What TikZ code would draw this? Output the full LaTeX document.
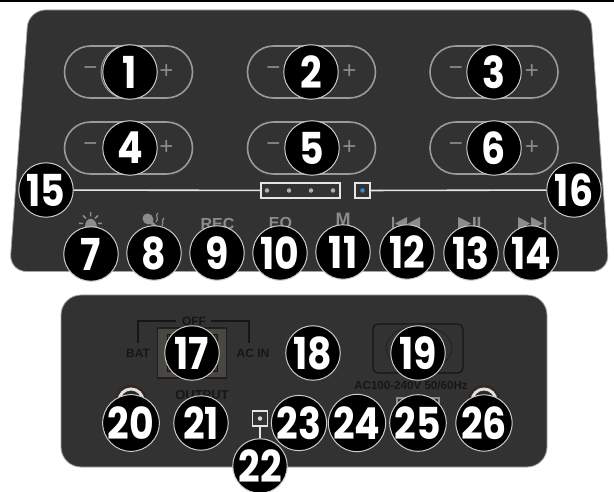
\documentclass[tikz,border=0pt]{standalone}
\usepackage{fontspec}
\setmainfont{Liberation Sans}
\newfontfamily\badgefont[FakeStretch=0.86]{Poppins}
\definecolor{panel}{HTML}{323232}
\definecolor{silk}{HTML}{8C8C8C}
\definecolor{edgeg}{HTML}{9A9A9A}
\definecolor{ink}{HTML}{161616}
\definecolor{switchg}{HTML}{4A4642}
\definecolor{jackrim}{HTML}{35261F}
\tikzset{
  badge/.style={circle,draw=white!80!black,line width=1pt,fill=black,text=white,minimum size=54.5pt,inner sep=0pt,font=\badgefont\fontsize{44}{44}\bfseries\selectfont},
  pill/.style={rounded corners=26pt,draw=edgeg,line width=1.6pt,minimum width=128pt,minimum height=52pt,inner sep=0pt},
  sign/.style={text=silk,font=\fontsize{24}{24}\selectfont,inner sep=0pt},
  ledbox/.style={draw=white!90!black,line width=1.6pt,fill=panel,inner sep=0pt},
  lead/.style={draw=white!90!black,line width=1.6pt},
  silklabel/.style={text=silk,font=\fontsize{16}{16}\bfseries\selectfont,inner sep=0pt},
  inklabel/.style={text=ink,font=\fontsize{12}{12}\bfseries\selectfont,inner sep=0pt},
  led/.style={circle,fill=#1,inner sep=0pt,minimum size=4.5pt},
  jack/.style={circle,draw=white!88!black,line width=3pt,fill=panel!80!black,minimum size=24pt,inner sep=0pt}
}
\begin{document}
\begin{tikzpicture}[x=1pt,y=-1pt]
\useasboundingbox (0,0) rectangle (614,492);
\fill[white] (0,0) rectangle (614,492);
\fill[black] (0,0) rectangle (614,2);
% top panel
\draw[fill=panel,draw=white!65!black,line width=.8pt,rounded corners=17pt]
  (28.5,10) -- (590.5,10) -- (609,271.5) -- (9.5,271.5) -- cycle;
\foreach \n/\x/\y in {a/128.5/72,b/311.5/72,c/494/72,d/128.5/148,e/311.5/148,f/494/148}{
  \node[pill] (pill\n) at (\x,\y) {};
  \node[sign] at (\x-38,\y-1) {\char"2212};
  \node[sign] at (\x+38,\y) {+};
}
\node[circle,draw=edgeg,line width=1pt,minimum size=54pt,inner sep=0pt] (knob) at (128,72) {};
% LED boxes
\node[ledbox,minimum width=79pt,minimum height=15pt] (leds) at (300.5,190.5) {};
\node[ledbox,minimum width=15pt,minimum height=15pt] (blue) at (362.5,190.5) {};
\foreach \x in {267,289,311,333} \node[led=silk!70!white] at (\x,190.5) {};
\node[led=blue!40!cyan!60!gray] at (362.5,190.5) {};
% function labels
\fill[silk] (85,227) .. controls (85,216) and (96,216) .. (97,227) -- cycle;
\draw[silk,line width=1.5pt] (90.5,212) -- (90.5,216.5) (83,215.5) -- (86,218.5) (98,215.5) -- (95,218.5) (79,223.5) -- (83,223.5) (98,223.5) -- (102,223.5);
\draw[silk,line width=10pt,line cap=round] (147.5,218.5) -- (148.5,219.5);
\draw[silk,line width=3pt] (151,222) -- (157,228);
\draw[silk,line width=1.2pt] (158,213) .. controls (154,216) and (160,218) .. (156,222);
\draw[silk,line width=1.2pt] (164,218) .. controls (161,221) and (164,222) .. (162,226);
\node[silklabel] (rec) at (217.5,224) {REC};
\node[silklabel] (eq) at (280.5,224) {EQ};
\node[silklabel,font=\fontsize{18}{18}\bfseries\selectfont] (m) at (343,219) {M};
\fill[silk] (392,217) rectangle (394,230) (407,217) -- (407,230) -- (395,223.5) -- cycle (420,217) -- (420,230) -- (408,223.5) -- cycle;
\fill[silk] (458,217) -- (458,230) -- (471,223.5) -- cycle (473,217) rectangle (475.5,230) (477.5,217) rectangle (480,230);
\fill[silk] (518,217) -- (518,230) -- (530,223.5) -- cycle (531,217) -- (531,230) -- (543,223.5) -- cycle (544,217) rectangle (546,230);
% bottom panel
\draw[fill=panel,draw=white!65!black,line width=.8pt,rounded corners=20pt] (61,295) rectangle (547,467);
\draw[ink,line width=1.3pt] (176,321) -- (138,321) -- (138,343);
\draw[ink,line width=1.3pt] (211,321) -- (249,321) -- (249,343);
\node[inklabel] (off) at (194,321) {OFF};
\node[inklabel] (bat) at (138,353) {BAT};
\node[inklabel] (acin) at (253,353) {AC IN};
\node[draw=ink!70!panel,fill=switchg,line width=1.2pt,minimum width=69pt,minimum height=50pt,inner sep=0pt] (switch) at (192,353) {};
\node[draw=ink,fill=panel,line width=.8pt,minimum width=50pt,minimum height=37pt,inner sep=0pt] at (192,353) {};
\node[inklabel,font=\fontsize{13}{13}\bfseries\selectfont] (output) at (202,395) {OUTPUT};
\node[draw=ink,line width=1.2pt,rounded corners=5pt,minimum width=90pt,minimum height=49pt,inner sep=0pt] (socket) at (418,348.5) {};
\draw[ink!60!panel,line width=.8pt] (419,348) ellipse (33 and 22);
\node[inklabel,font=\fontsize{11.6}{11.6}\bfseries\selectfont] (volt) at (411,385) {AC100-240V 50/60Hz};
\node[draw=silk,fill=panel,line width=1.2pt,minimum width=42pt,minimum height=14pt,inner sep=0pt] (fuse) at (418,405) {};
\foreach \n/\x in {j20/131,j26/484}{
  \fill[jackrim] (\x,401) circle (16);
  \node[jack] (\n) at (\x,401) {};
}
\node[ledbox,minimum width=15pt,minimum height=15pt] (pwr) at (260,418.5) {};
\node[led=white!85!black] at (260,418.5) {};
% badges
\foreach \t/\x/\y in {1/130/72,2/311/72,3/494/72,4/130/148,5/312/148,6/494/148,15/46/190,16/574/190,7/91/254,8/154/253,9/217/253,10/280/253,11/343/252,12/407/252,13/471/253,14/531/253,17/192/353,18/313/353,19/418/353,20/131/423,21/201/423,22/260/466,23/299/423,24/357/423,25/418/423,26/484/423}{
  \node[badge] (b\t) at (\x,\y) {\t};
}
\draw[lead] (b15) -- (leds);
\draw[lead] (blue) -- (b16);
\draw[lead] (pwr) -- (b22);
\end{tikzpicture}
\end{document}
